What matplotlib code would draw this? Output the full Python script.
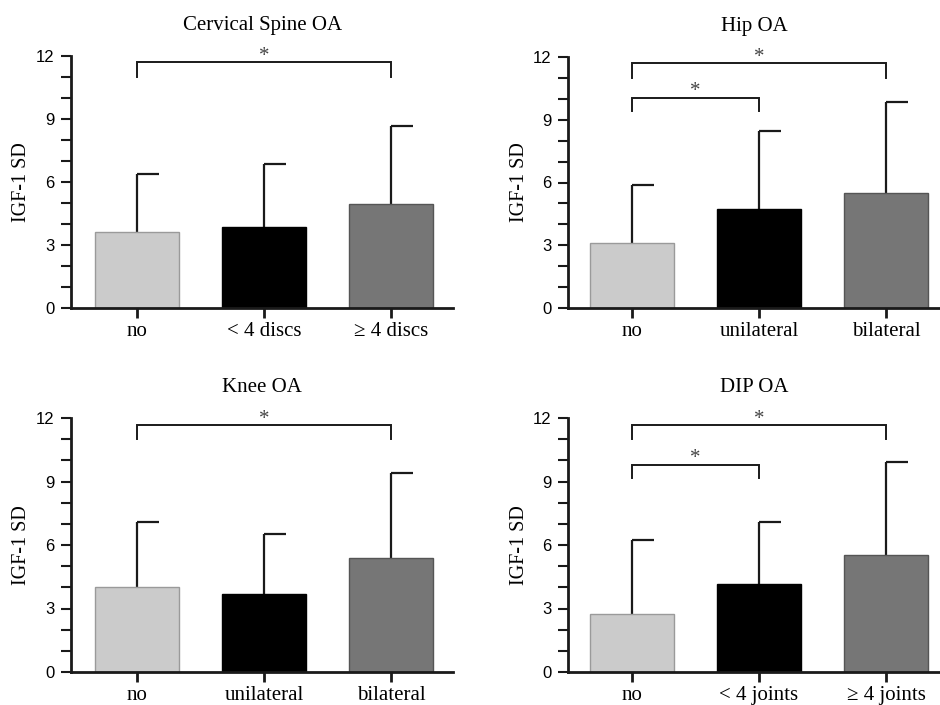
import matplotlib
matplotlib.use("Agg")
import matplotlib.pyplot as plt
from matplotlib.ticker import MultipleLocator

# ---- data ----
titles = ["Cervical Spine OA", "Hip OA", "Knee OA", "DIP OA"]
categories = [
    ["no", "< 4 discs", "\u2265 4 discs"],
    ["no", "unilateral", "bilateral"],
    ["no", "unilateral", "bilateral"],
    ["no", "< 4 joints", "\u2265 4 joints"],
]
means = [
    [3.6, 3.85, 4.95],
    [3.1, 4.72, 5.48],
    [4.02, 3.68, 5.4],
    [2.74, 4.18, 5.52],
]
sds_upper = [
    [6.38, 6.86, 8.68],
    [5.88, 8.48, 9.83],
    [7.1, 6.5, 9.42],
    [6.25, 7.1, 9.92],
]
# significance brackets: (i, j, bracket_y, leg_bottom_y)
brackets = [
    [(0, 2, 11.7, 11.0)],
    [(0, 2, 11.7, 11.0), (0, 1, 10.05, 9.4)],
    [(0, 2, 11.65, 11.0)],
    [(0, 2, 11.65, 11.0), (0, 1, 9.8, 9.15)],
]
ylabel = "IGF-1 SD"

bar_colors = ["#cbcbcb", "#000000", "#767676"]
edge_colors = ["#9a9a9a", "#000000", "#555555"]
serif = "Liberation Serif"
sans = "Liberation Sans"

fig = plt.figure(figsize=(9.4, 7.05), dpi=100)
W, H = 940.0, 705.0
unit = 127.0
# axes geometry in px: (left, top-of-axes(y=12), bottom(y=0), xmin, xmax)
geoms = [
    (71, 56, 308, -0.52, 2.49),
    (568, 57, 308, -0.504, 2.425),
    (71, 418, 672, -0.52, 2.49),
    (568, 418, 672, -0.504, 2.425),
]

for k in range(4):
    left, top, bot, xmin, xmax = geoms[k]
    width = (xmax - xmin) * unit
    ax = fig.add_axes([left / W, 1 - bot / H, width / W, (bot - top) / H])
    x = list(range(3))
    ax.bar(x, means[k], width=0.66, color=bar_colors, edgecolor=edge_colors,
           linewidth=1.0, zorder=2)
    for i in x:
        ax.plot([i, i], [means[k][i], sds_upper[k][i]], color="#1a1a1a",
                lw=1.6, zorder=1, solid_capstyle="butt")
        ax.plot([i, i + 0.175], [sds_upper[k][i], sds_upper[k][i]],
                color="#1a1a1a", lw=1.6, zorder=1, solid_capstyle="butt")
    for (i, j, yb, yl) in brackets[k]:
        ax.plot([i, i, j, j], [yl, yb, yb, yl], color="#1a1a1a", lw=1.4,
                clip_on=False, solid_joinstyle="miter")
        ax.text((i + j) / 2, yb + 0.28, "*", ha="center", va="center",
                fontsize=15, family=serif, color="#444444", clip_on=False)

    ax.set_xlim(xmin, xmax)
    ax.set_ylim(0, 12)
    ax.set_xticks(x)
    ax.set_xticklabels(categories[k], family=serif, fontsize=15)
    ax.yaxis.set_major_locator(MultipleLocator(3))
    ax.yaxis.set_minor_locator(MultipleLocator(1))
    for lab in ax.get_yticklabels():
        lab.set_family(sans)
        lab.set_fontsize(12)
    ax.tick_params(axis="y", which="both", length=7, width=1.5, direction="out",
                   pad=5, color="#1a1a1a")
    ax.tick_params(axis="x", length=7, width=2, direction="out", pad=3,
                   color="#1a1a1a")
    for s in ["top", "right"]:
        ax.spines[s].set_visible(False)
    for s in ["left", "bottom"]:
        ax.spines[s].set_linewidth(2)
        ax.spines[s].set_color("#1a1a1a")
    ax.set_ylabel(ylabel, family=serif, fontsize=14.5)
    ax.yaxis.set_label_coords(-0.105, 0.5)
    ax.set_title(titles[k], family=serif, fontsize=15, pad=19)

fig.savefig("out.png", dpi=100)
